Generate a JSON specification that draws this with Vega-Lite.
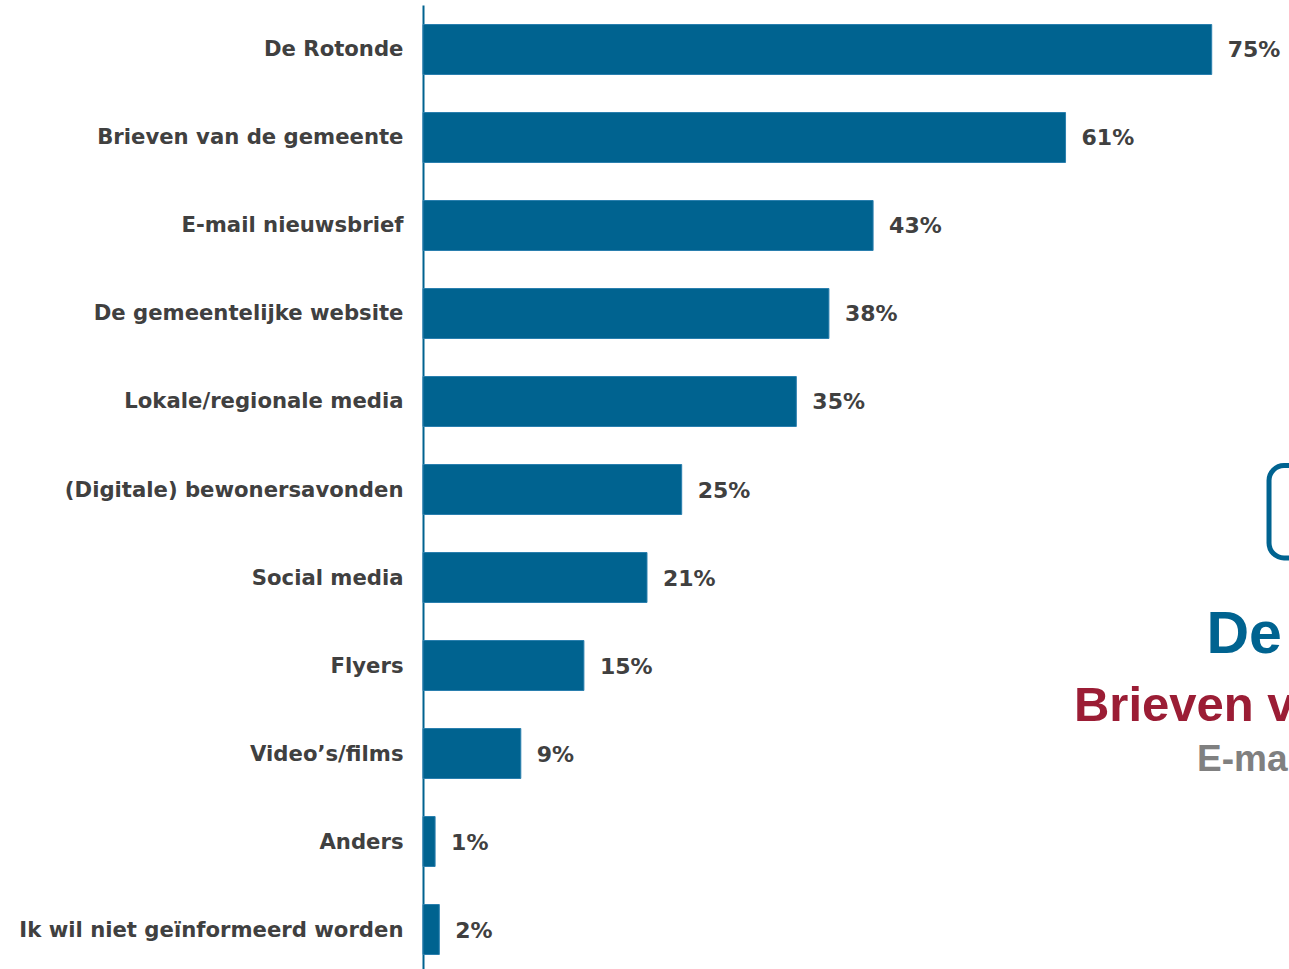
{
  "$schema": "https://vega.github.io/schema/vega-lite/v6.json",
  "autosize": "none",
  "width": 866,
  "height": 969,
  "padding": {"left": 423, "top": 5, "right": 0, "bottom": 0},
  "background": "white",
  "config": {"view": {"stroke": null}},
  "datasets": {
    "main": [
      {"kanaal": "De Rotonde", "pct": 75.0, "label": "75%"},
      {"kanaal": "Brieven van de gemeente", "pct": 61.1, "label": "61%"},
      {"kanaal": "E-mail nieuwsbrief", "pct": 42.8, "label": "43%"},
      {"kanaal": "De gemeentelijke website", "pct": 38.6, "label": "38%"},
      {"kanaal": "Lokale/regionale media", "pct": 35.5, "label": "35%"},
      {"kanaal": "(Digitale) bewonersavonden", "pct": 24.6, "label": "25%"},
      {"kanaal": "Social media", "pct": 21.3, "label": "21%"},
      {"kanaal": "Flyers", "pct": 15.3, "label": "15%"},
      {"kanaal": "Video’s/films", "pct": 9.3, "label": "9%"},
      {"kanaal": "Anders", "pct": 1.15, "label": "1%"},
      {"kanaal": "Ik wil niet geïnformeerd worden", "pct": 1.55, "label": "2%"}
    ],
    "deco_text": [
      {"tekst": "De Rotonde", "x": 74.5, "y": 648, "kleur": "#006390", "size": 59},
      {"tekst": "Brieven van de gemeente", "x": 61.9, "y": 716, "kleur": "#9B1D35", "size": 49},
      {"tekst": "E-mail nieuwsbrief", "x": 73.6, "y": 766, "kleur": "#808080", "size": 37}
    ],
    "deco_box": [
      {"x": 80.45, "x2": 98, "y": 460.5, "y2": 553}
    ]
  },
  "layer": [
    {
      "layer": [
        {
          "data": {"name": "main"},
          "mark": {"type": "bar", "color": "#006390", "stroke": "#2a7fae", "strokeWidth": 1},
          "encoding": {
            "y": {
              "field": "kanaal", "type": "nominal", "sort": null,
              "scale": {"paddingInner": 0.432, "paddingOuter": 0.2216},
              "axis": {
                "title": null, "ticks": false, "labelPadding": 20,
                "labelFont": "DejaVu Sans", "labelFontWeight": "bold", "labelFontSize": 21.2,
                "labelColor": "#404040", "labelLimit": 500, "labelOffset": 1,
                "domainColor": "#006390", "domainWidth": 2
              }
            },
            "x": {
              "field": "pct", "type": "quantitative",
              "scale": {"domain": [0, 82.35], "nice": false, "zero": true},
              "axis": null
            }
          }
        },
        {
          "data": {"name": "main"},
          "mark": {"type": "text", "align": "left", "baseline": "middle", "dx": 16, "dy": 1,
                   "font": "DejaVu Sans", "fontWeight": "bold", "fontSize": 22, "color": "#404040"},
          "encoding": {
            "y": {"field": "kanaal", "type": "nominal", "sort": null},
            "x": {"field": "pct", "type": "quantitative"},
            "text": {"field": "label"}
          }
        }
      ]
    },
    {
      "layer": [
        {
          "data": {"name": "deco_box"},
          "mark": {"type": "rect", "filled": false, "stroke": "#006390", "strokeWidth": 5, "cornerRadius": 15},
          "encoding": {
            "x": {"field": "x", "type": "quantitative"},
            "x2": {"field": "x2"},
            "y": {"field": "y", "type": "quantitative", "scale": {"domain": [0, 969], "reverse": true, "nice": false}, "axis": null},
            "y2": {"field": "y2"}
          }
        },
        {
          "data": {"name": "deco_text"},
          "mark": {"type": "text", "align": "left", "baseline": "alphabetic",
                   "font": "Liberation Sans", "fontWeight": "bold"},
          "encoding": {
            "x": {"field": "x", "type": "quantitative"},
            "y": {"field": "y", "type": "quantitative"},
            "text": {"field": "tekst"},
            "color": {"field": "kleur", "type": "nominal", "scale": null, "legend": null},
            "size": {"field": "size", "type": "quantitative", "scale": null, "legend": null}
          }
        }
      ]
    }
  ],
  "resolve": {"scale": {"y": "independent"}, "axis": {"y": "independent"}}
}
